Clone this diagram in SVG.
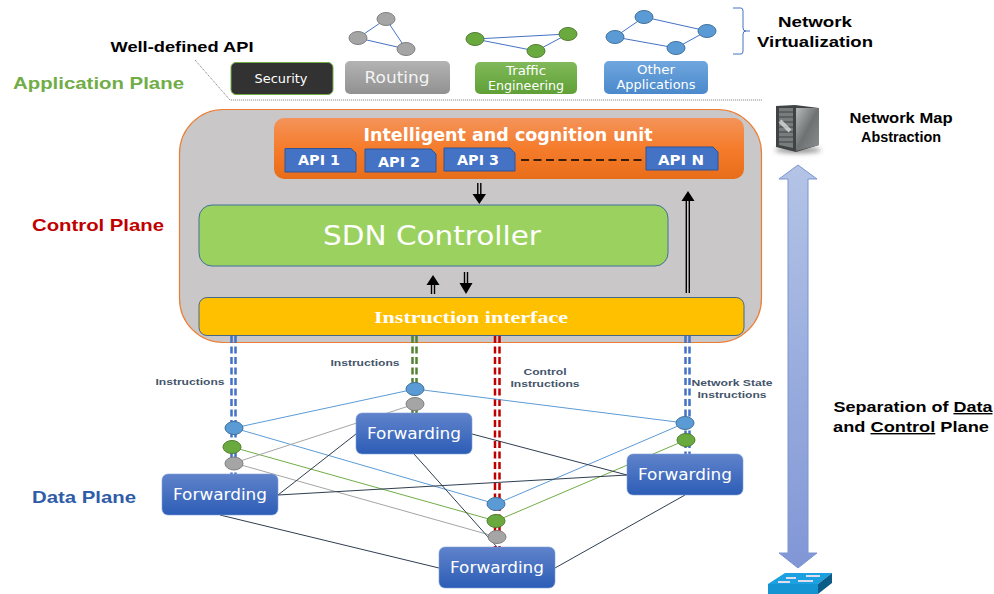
<svg xmlns="http://www.w3.org/2000/svg" width="994" height="594" viewBox="0 0 994 594">
<style>
text{font-family:"Liberation Sans",Arial,sans-serif}
.h{font-weight:bold;fill:#000;font-size:14px;text-anchor:middle}
.pl{font-weight:bold;font-size:17px}
.sm{font-weight:bold;font-size:9.5px;fill:#44546A;text-anchor:middle}
.ds{font-family:"DejaVu Sans",sans-serif;fill:#fff;text-anchor:middle}
.api{font-family:"DejaVu Sans",sans-serif;font-weight:bold;font-size:13.500px;fill:#fff;text-anchor:middle}
.apibox{fill:#4472C4;stroke:#2F5597;stroke-width:1}
.fw{fill:url(#fw);stroke:#7F9DD6;stroke-width:.6}
.lb{stroke:#5B9BD5;stroke-width:1;fill:none}
.lg{stroke:#70AD47;stroke-width:1;fill:none}
.la{stroke:#A5A5A5;stroke-width:1;fill:none}
.lk{stroke:#2F3E50;stroke-width:1;fill:none}
.nb{fill:#5B9BD5;stroke:#41719C}
.ng{fill:#6AA93E;stroke:#507E32}
.na{fill:#A5A5A5;stroke:#7F7F7F}
.e{stroke:#4472C4;stroke-width:1;fill:none}
.dash{fill:none;stroke-width:2.500;stroke-dasharray:7 3.500}
.dbl{stroke:#000;stroke-width:1.400;fill:none}
</style>
<defs>
<linearGradient id="fw" x1="0" y1="0" x2="0" y2="1"><stop offset="0" stop-color="#6083CB"/><stop offset="1" stop-color="#2C5DB6"/></linearGradient>
<linearGradient id="or" x1="0" y1="0" x2="0" y2="1"><stop offset="0" stop-color="#F4935A"/><stop offset=".5" stop-color="#F57C2B"/><stop offset="1" stop-color="#E86D19"/></linearGradient>
<linearGradient id="gy" x1="0" y1="0" x2="0" y2="1"><stop offset="0" stop-color="#B3B3B3"/><stop offset="1" stop-color="#919191"/></linearGradient>
<linearGradient id="gr" x1="0" y1="0" x2="0" y2="1"><stop offset="0" stop-color="#81B95A"/><stop offset="1" stop-color="#5FA036"/></linearGradient>
<linearGradient id="bl" x1="0" y1="0" x2="0" y2="1"><stop offset="0" stop-color="#6FA6DE"/><stop offset="1" stop-color="#4A89CC"/></linearGradient>
<linearGradient id="big" x1="0" y1="0" x2="0" y2="1"><stop offset="0" stop-color="#B4C4E6"/><stop offset="1" stop-color="#8196D6"/></linearGradient>
<linearGradient id="srv" x1="0" y1="0" x2="1" y2="1"><stop offset="0" stop-color="#B8BABA"/><stop offset=".5" stop-color="#6E7272"/><stop offset="1" stop-color="#8B8F8F"/></linearGradient>
<filter id="blur" x="-30%" y="-200%" width="160%" height="500%"><feGaussianBlur stdDeviation="2.500"/></filter>
</defs>

<g id="labels">
<text class="h" x="182" y="52" textLength="143" lengthAdjust="spacingAndGlyphs">Well-defined API</text>
<text class="pl" x="13" y="89" fill="#70AD47" textLength="171" lengthAdjust="spacingAndGlyphs">Application Plane</text>
<text class="pl" x="32" y="231" fill="#C00000" textLength="132" lengthAdjust="spacingAndGlyphs">Control Plane</text>
<text class="pl" x="32" y="503" fill="#2F5CA8" textLength="104" lengthAdjust="spacingAndGlyphs">Data Plane</text>
<text class="h" x="815" y="27" textLength="74" lengthAdjust="spacingAndGlyphs">Network</text>
<text class="h" x="815" y="47" textLength="116" lengthAdjust="spacingAndGlyphs">Virtualization</text>
<text class="h" x="901" y="123" textLength="103" lengthAdjust="spacingAndGlyphs">Network Map</text>
<text class="h" x="901" y="142" textLength="80" lengthAdjust="spacingAndGlyphs">Abstraction</text>
<text class="h" x="913" y="412" textLength="159" lengthAdjust="spacingAndGlyphs">Separation of <tspan text-decoration="underline">Data</tspan></text>
<text class="h" x="911" y="432" textLength="156" lengthAdjust="spacingAndGlyphs">and <tspan text-decoration="underline">Control</tspan> Plane</text>
<text class="sm" x="190" y="385" textLength="69" lengthAdjust="spacingAndGlyphs">Instructions</text>
<text class="sm" x="365" y="366" textLength="69" lengthAdjust="spacingAndGlyphs">Instructions</text>
<text class="sm" x="545" y="375" textLength="43" lengthAdjust="spacingAndGlyphs">Control</text>
<text class="sm" x="545" y="387" textLength="69" lengthAdjust="spacingAndGlyphs">Instructions</text>
<text class="sm" x="732" y="386" textLength="81" lengthAdjust="spacingAndGlyphs">Network State</text>
<text class="sm" x="732" y="398" textLength="69" lengthAdjust="spacingAndGlyphs">Instructions</text>
</g>

<g id="api-bracket">
<path d="M733 8H741Q743 8 743 11V28Q743 31 746 31H750M746 31Q743 31 743 34V51Q743 54 741 54H733" fill="none" stroke="#4472C4" stroke-width="1"/>
<path d="M195 60L230 100H762" fill="none" stroke="#777" stroke-width="1" stroke-dasharray="1 1"/>
</g>

<g id="app-routing-graph">
<path class="e" d="M386 19L358 38L406 49Z"/>
<ellipse class="na" cx="386" cy="19" rx="9" ry="6.500"/><ellipse class="na" cx="358" cy="38" rx="9" ry="6.500"/><ellipse class="na" cx="406" cy="49" rx="9" ry="6.500"/>
</g>
<g id="app-traffic-graph">
<path class="e" d="M475 39L568 34L536 51Z"/>
<ellipse class="ng" cx="475" cy="39" rx="9" ry="6.500"/><ellipse class="ng" cx="568" cy="34" rx="9" ry="6.500"/><ellipse class="ng" cx="536" cy="51" rx="9" ry="6.500"/>
</g>
<g id="app-other-graph">
<path class="e" d="M644 17L707 31L676 48L615 37Z"/>
<ellipse class="nb" cx="644" cy="17" rx="9" ry="6.500"/><ellipse class="nb" cx="615" cy="37" rx="9" ry="6.500"/><ellipse class="nb" cx="707" cy="31" rx="9" ry="6.500"/><ellipse class="nb" cx="676" cy="48" rx="9" ry="6.500"/>
</g>

<g id="security"><rect x="231" y="62.500" width="102" height="32" rx="5" fill="#323232" stroke="#70AD47" stroke-width="1"/>
<text class="ds" x="281" y="83" font-size="11.500" textLength="53" lengthAdjust="spacingAndGlyphs">Security</text></g>
<g id="routing"><rect x="345" y="61" width="105" height="33" rx="5" fill="url(#gy)"/>
<text class="ds" x="397" y="83" font-size="15.500" fill-opacity=".9" textLength="65" lengthAdjust="spacingAndGlyphs">Routing</text></g>
<g id="traffic"><rect x="475" y="62" width="102" height="32" rx="5" fill="url(#gr)"/>
<text class="ds" x="526" y="75" font-size="11.500" textLength="40" lengthAdjust="spacingAndGlyphs">Traffic</text><text class="ds" x="526" y="90" font-size="11.500" textLength="76" lengthAdjust="spacingAndGlyphs">Engineering</text></g>
<g id="other"><rect x="604" y="61" width="104" height="33" rx="5" fill="url(#bl)"/>
<text class="ds" x="656" y="74" font-size="11.500" textLength="38" lengthAdjust="spacingAndGlyphs">Other</text><text class="ds" x="656" y="89" font-size="11.500" textLength="79" lengthAdjust="spacingAndGlyphs">Applications</text></g>

<g id="control-plane"><rect x="179.500" y="109.500" width="582" height="233" rx="44" fill="#C9C7C7" stroke="#ED7D31" stroke-width="1.200"/></g>

<g id="intelligent-unit">
<rect x="274" y="118" width="470" height="61" rx="10" fill="url(#or)"/>
<text class="ds" x="508" y="141" font-size="17" font-weight="bold" textLength="289" lengthAdjust="spacingAndGlyphs">Intelligent and cognition unit</text>
<path d="M521 160H643" stroke="#000" stroke-width="1.300" stroke-dasharray="8 4.500" fill="none"/>
</g>
<g id="api-1"><path class="apibox" d="M285 148.500H351L356 153V172H285Z"/><text class="api" x="319" y="165" textLength="42" lengthAdjust="spacingAndGlyphs">API 1</text></g>
<g id="api-2"><path class="apibox" d="M365 149H431L436 154V172H365Z"/><text class="api" x="399" y="167" textLength="42" lengthAdjust="spacingAndGlyphs">API 2</text></g>
<g id="api-3"><path class="apibox" d="M444 148H510L515 153V171H444Z"/><text class="api" x="478" y="165" textLength="42" lengthAdjust="spacingAndGlyphs">API 3</text></g>
<g id="api-n"><path class="apibox" d="M646 147H713L718 152V170H646Z"/><text class="api" x="681" y="165" textLength="46" lengthAdjust="spacingAndGlyphs">API N</text></g>

<g id="sdn-controller"><rect x="199" y="205" width="469" height="61" rx="13" fill="#9BD15F" stroke="#41719C" stroke-width="1"/>
<text class="ds" x="432" y="245" font-size="27" textLength="218" lengthAdjust="spacingAndGlyphs">SDN Controller</text></g>

<g id="instruction-interface"><rect x="199" y="297.500" width="545" height="38" rx="8" fill="#FFC000" stroke="#44688A" stroke-width="1"/>
<text x="471" y="323" text-anchor="middle" fill="#fff" font-size="17" font-weight="bold" style="font-family:'Liberation Serif',serif" textLength="194" lengthAdjust="spacingAndGlyphs">Instruction interface</text></g>

<g id="connectors">
<path class="dbl" d="M477.800 183V195M480.800 183V195"/><path d="M472.500 194H486L479.300 204Z"/>
<path class="dbl" d="M686.300 293V200M689.300 293V200"/><path d="M681.500 201H694.500L688 191Z"/>
<path class="dbl" d="M431.500 294V284M434.500 294V284"/><path d="M426.500 285H439.500L433 275Z"/>
<path class="dbl" d="M464.500 272V284M467.500 272V284"/><path d="M459.500 283H472.500L466 294Z"/>

<path class="dash" stroke="#4472C4" d="M231.500 336V476M235.500 336V476"/>
<path class="dash" stroke="#548235" d="M412.500 336V414M416.500 336V414"/>
<path class="dash" stroke="#C00000" d="M495 336V549M499.500 336V549"/>
<path class="dash" stroke="#4472C4" d="M685.500 336V456M689.500 336V456"/>

<path class="lb" d="M234 428L415 389L685 423L496 504Z"/>
<path class="lg" d="M232 447L496 521L686 440"/>
<path class="la" d="M234 463L415 404M234 463L497 537"/>
<path class="lk" d="M278 495L356 434M278 495L627 475M220 515L439 568M414 454L497 547M472 434L627 475M685 495L555 568"/>
</g>

<g id="ctrl-a"><ellipse class="nb" cx="234" cy="428" rx="9" ry="6.500"/></g>
<g id="ctrl-b"><ellipse class="ng" cx="232" cy="447" rx="9" ry="6.500"/></g>
<g id="ctrl-c"><ellipse class="na" cx="234" cy="463.500" rx="9" ry="6.500"/></g>
<g id="ctrl-d"><ellipse class="nb" cx="415" cy="389" rx="9" ry="6.500"/></g>
<g id="ctrl-e"><ellipse class="na" cx="415" cy="404" rx="9" ry="6.500"/></g>
<g id="ctrl-f"><ellipse class="nb" cx="685" cy="423" rx="9" ry="6.500"/></g>
<g id="ctrl-g"><ellipse class="ng" cx="686" cy="440" rx="9" ry="6.500"/></g>
<g id="ctrl-h"><ellipse class="nb" cx="496" cy="504" rx="9" ry="6.500"/></g>
<g id="ctrl-i"><ellipse class="ng" cx="496" cy="521" rx="9" ry="6.500"/></g>
<g id="ctrl-j"><ellipse class="na" cx="497" cy="537" rx="9" ry="6.500"/></g>

<g id="forwarding-1"><rect class="fw" x="162" y="474" width="116" height="41" rx="6"/><text class="ds" x="220" y="500" font-size="15.500" textLength="94" lengthAdjust="spacingAndGlyphs">Forwarding</text></g>
<g id="forwarding-2"><rect class="fw" x="356" y="413" width="116" height="41" rx="6"/><text class="ds" x="414" y="439" font-size="15.500" textLength="94" lengthAdjust="spacingAndGlyphs">Forwarding</text></g>
<g id="forwarding-3"><rect class="fw" x="627" y="454" width="116" height="41" rx="6"/><text class="ds" x="685" y="480" font-size="15.500" textLength="94" lengthAdjust="spacingAndGlyphs">Forwarding</text></g>
<g id="forwarding-4"><rect class="fw" x="439" y="547" width="116" height="41" rx="6"/><text class="ds" x="497" y="573" font-size="15.500" textLength="94" lengthAdjust="spacingAndGlyphs">Forwarding</text></g>

<g id="separation-arrow"><path d="M798 165L817 179H808V553H817L798 568L779 553H788V179H779Z" fill="url(#big)" stroke="#7A95D2" stroke-width="1"/></g>

<g id="server">
<ellipse cx="798" cy="150" rx="23" ry="3" fill="#888" filter="url(#blur)"/>
<path d="M776 106L795 105L819 108V145L796 152L776 147Z" fill="#3F4343"/>
<path d="M796 108L819 108V145L796 151Z" fill="url(#srv)"/>
<path d="M779 108H793V148L779 145Z" fill="#787C7C"/>
<path d="M779 112H793M779 117H793M779 122H793M779 127H793M779 132H793M779 137H793M779 142H793" stroke="#3F4343" stroke-width="1"/>
<path d="M780 121L790 131" stroke="#E8E8E8" stroke-width="4" opacity=".7"/>
</g>

<g id="switch">
<path d="M768 584L785 573H832L818 584Z" fill="#1BA1E2"/>
<path d="M768 584H818V594H768Z" fill="#1594D4"/>
<path d="M818 584L832 573V583L818 594Z" fill="#0B5C86"/>
<path d="M786 578H796M806 576H820M778 582H790M798 581H813" stroke="#DDE" stroke-width="1.800" fill="none"/>
</g>
</svg>
